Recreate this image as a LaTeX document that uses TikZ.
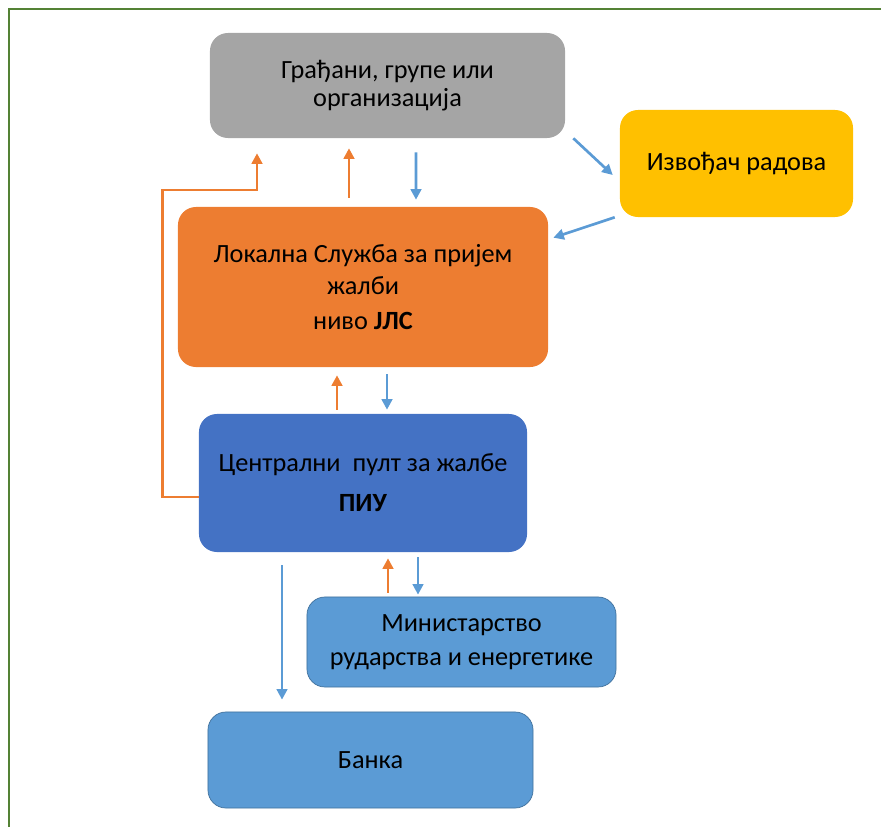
\documentclass[tikz,border=0pt]{standalone}
\usepackage{fontspec}
\setmainfont{Carlito}
\usetikzlibrary{arrows.meta,calc}

\definecolor{boxgray}{HTML}{A5A5A5}
\definecolor{boxyellow}{HTML}{FFC000}
\definecolor{boxorange}{HTML}{ED7D31}
\definecolor{boxblue}{HTML}{4472C4}
\definecolor{boxlight}{HTML}{5B9BD5}
\definecolor{lightedge}{HTML}{41719C}
\definecolor{framegreen}{HTML}{548235}

\begin{document}
\begin{tikzpicture}[x=0.025cm, y=-0.025cm,
  box/.style={rectangle, rounded corners=0.45cm, align=center, inner sep=0pt,
    font=\fontsize{18.7}{20}\selectfont},
  orarr/.style={draw=boxorange, line width=1.9pt, -{Triangle[length=7.5pt,width=7.5pt]}},
  bluarr/.style={draw=boxlight, line width=1.9pt, -{Triangle[length=7.5pt,width=7.5pt]}}
]
  \useasboundingbox (0,0) rectangle (881,827);
  \draw[framegreen, line width=1.5pt] (9,827) -- (9,9) -- (881,9);

  \node[box, fill=boxgray, minimum width=8.875cm, minimum height=2.625cm] (grad) at (387.5,85.5) {Грађани, групе или\\организација};
  \node[box, fill=boxyellow, minimum width=5.825cm, minimum height=2.675cm] (izv) at (736.5,163.5) {Извођач радова};
  \node[box, fill=boxorange, minimum width=9.25cm, minimum height=4cm] (lok) at (363,287) {Локална Служба за пријем\\[3pt]жалби\\[5pt]ниво \textbf{ЈЛС}};
  \node[box, fill=boxblue, minimum width=8.2cm, minimum height=3.45cm] (piu) at (363,483) {Централни\ \ пулт за жалбе\\[8.4pt]\textbf{ПИУ}};
  \node[box, fill=boxlight, draw=lightedge, line width=0.5pt, minimum width=7.725cm, minimum height=2.25cm] (min) at (461.5,642) {Министарство\\[4pt]рударства и енергетике};
  \node[box, fill=boxlight, draw=lightedge, line width=0.5pt, minimum width=8.125cm, minimum height=2.4cm] (banka) at (370.5,760) {Банка};

  \draw[orarr] ($(lok.north)+(-14,-9)$) -- ($(grad.south)+(-38.5,10)$);
  \draw[bluarr] ($(grad.south)+(28.5,14)$) -- ($(lok.north)+(53,-7)$);
  \draw[orarr] ($(piu.west)+(0,14)$) -| ($(lok.west)+(-15,-97)$) -| ($(grad.south)+(-130.5,15)$);
  \draw[bluarr] ($(grad.south east)+(8,0)$) -- ($(izv.west)+(-7,11.5)$);
  \draw[bluarr] ($(izv.south west)+(-5,0)$) -- ($(lok.north east)+(5,31)$);
  \draw[orarr] ($(piu.north)+(-26,-4)$) -- ($(lok.south)+(-26,8)$);
  \draw[bluarr] ($(lok.south)+(24,7)$) -- ($(piu.north)+(24,-4)$);
  \draw[bluarr] ($(piu.south)+(-81,13)$) -- ($(banka.north)+(-88.5,-12)$);
  \draw[orarr] ($(min.north)+(-73.5,-4)$) -- ($(piu.south)+(25,6)$);
  \draw[bluarr] ($(piu.south)+(55,5)$) -- ($(min.north)+(-43.5,-2)$);
\end{tikzpicture}
\end{document}
